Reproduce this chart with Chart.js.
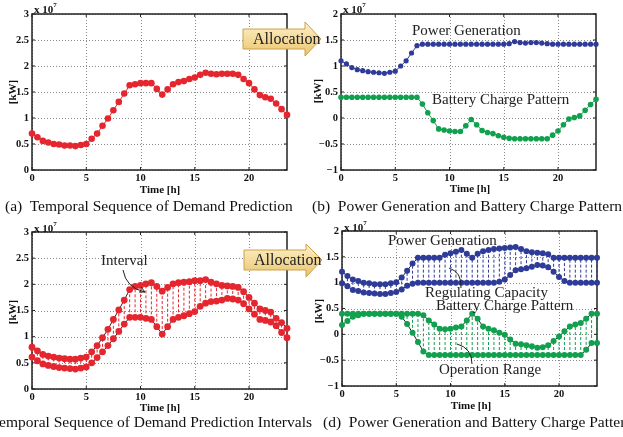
<!DOCTYPE html>
<html>
<head>
<meta charset="utf-8">
<script src="https://cdn.jsdelivr.net/npm/chart.js@4.4.1/dist/chart.umd.min.js"></script>
<style>
  html, body { margin: 0; padding: 0; background: #fff; }
  body { width: 623px; height: 437px; position: relative; overflow: hidden;
         font-family: 'Liberation Serif', 'Times New Roman', serif; color: #111; }
  canvas { position: absolute; }
  .t { position: absolute; white-space: nowrap; line-height: 1; }
  .ann { font-size: 15px; color: #222; }
  .cap { font-size: 15.5px; color: #111; }
  .ax { font-size: 11px; font-weight: bold; transform: translate(-50%, -50%); }
  .kw { font-size: 11px; font-weight: bold; transform: translate(-50%, -50%) rotate(-90deg); }
  .exp { font-size: 11px; font-weight: bold; }
  .exp sup { font-size: 7px; position: relative; top: -1px; }
  svg { position: absolute; left: 0; top: 0; pointer-events: none; }
</style>
</head>
<body>
<canvas id="ca" width="300" height="190" style="left:0;top:0"></canvas>
<canvas id="cb" width="300" height="190" style="left:310px;top:0"></canvas>
<canvas id="cc" width="300" height="190" style="left:0;top:218px"></canvas>
<canvas id="cd" width="300" height="190" style="left:310px;top:217px"></canvas>

<!-- axis labels and exponents -->
<div class="t exp" style="left:34px;top:3px">x 10<sup>7</sup></div>
<div class="t exp" style="left:343px;top:3px">x 10<sup>7</sup></div>
<div class="t exp" style="left:34px;top:222px">x 10<sup>7</sup></div>
<div class="t exp" style="left:344px;top:221px">x 10<sup>7</sup></div>
<div class="t ax" style="left:160px;top:189px">Time [h]</div>
<div class="t ax" style="left:470px;top:188px">Time [h]</div>
<div class="t ax" style="left:160px;top:407px">Time [h]</div>
<div class="t ax" style="left:471px;top:405px">Time [h]</div>
<div class="t kw" style="left:12px;top:92px">[kW]</div>
<div class="t kw" style="left:317px;top:91px">[kW]</div>
<div class="t kw" style="left:12px;top:312px">[kW]</div>
<div class="t kw" style="left:318px;top:311px">[kW]</div>

<!-- captions -->
<div class="t cap" style="left:5px;top:198px">(a)&nbsp; Temporal Sequence of Demand Prediction</div>
<div class="t cap" style="left:312px;top:198px">(b)&nbsp; Power Generation and Battery Charge Pattern</div>
<div class="t cap" style="right:311px;top:414px">(c)&nbsp; Temporal Sequence of Demand Prediction Intervals</div>
<div class="t cap" style="left:323px;top:414px">(d)&nbsp; Power Generation and Battery Charge Pattern</div>

<svg width="623" height="437">
  <defs>
    <linearGradient id="gold" x1="0" y1="0" x2="0" y2="1">
      <stop offset="0" stop-color="#fdf1c8"/>
      <stop offset="1" stop-color="#ebc46e"/>
    </linearGradient>
  </defs>
  <polygon points="243,29 305,29 305,22 321,39 305,56 305,49 243,49" fill="url(#gold)" stroke="#c9a24a" stroke-width="1"/>
  <polygon points="244,250 306,250 306,244 322,260 306,277 306,270 244,270" fill="url(#gold)" stroke="#c9a24a" stroke-width="1"/>
  <path d="M123,270 Q126,288 145,292" fill="none" stroke="#222" stroke-width="1"/>
  <path d="M145,292 L139,292 M145,292 L141,287" fill="none" stroke="#222" stroke-width="1"/>
  <path d="M449,268 Q462,272 461,288" fill="none" stroke="#222" stroke-width="1"/>
  <path d="M457,344 Q472,348 472,364" fill="none" stroke="#222" stroke-width="1"/>
</svg>

<div class="t" style="left:253px;top:31px;font-size:16px;color:#222">Allocation</div>
<div class="t" style="left:254px;top:252px;font-size:16px;color:#222">Allocation</div>

<div class="t ann" style="left:412px;top:23px">Power Generation</div>
<div class="t ann" style="left:432px;top:92px">Battery Charge Pattern</div>
<div class="t ann" style="left:101px;top:253px">Interval</div>
<div class="t ann" style="left:388px;top:233px">Power Generation</div>
<div class="t ann" style="left:425px;top:285px">Regulating Capacity</div>
<div class="t ann" style="left:436px;top:298px">Battery Charge Pattern</div>
<div class="t ann" style="left:439px;top:362px">Operation Range</div>

<script>
// time of day [h], half-hour steps
const hours = [0, 0.5, 1, 1.5, 2, 2.5, 3, 3.5, 4, 4.5, 5, 5.5, 6, 6.5, 7, 7.5, 8, 8.5, 9, 9.5,
  10, 10.5, 11, 11.5, 12, 12.5, 13, 13.5, 14, 14.5, 15, 15.5, 16, 16.5, 17, 17.5, 18, 18.5, 19, 19.5,
  20, 20.5, 21, 21.5, 22, 22.5, 23, 23.5];

// (a) demand prediction [x1e7 kW]
const demand = [0.70, 0.63, 0.56, 0.53, 0.50, 0.49, 0.47, 0.47, 0.46,
  0.48, 0.50, 0.60, 0.70, 0.85, 0.99, 1.15, 1.31, 1.47, 1.63,
  1.65, 1.67, 1.67, 1.67, 1.56, 1.45, 1.55, 1.65, 1.69, 1.71,
  1.75, 1.78, 1.83, 1.87, 1.85, 1.84, 1.85, 1.85, 1.85, 1.83,
  1.75, 1.67, 1.55, 1.44, 1.40, 1.37, 1.28, 1.17, 1.06];

// (b) power generation and battery charge
const powerGen = [1.10, 1.04, 0.97, 0.93, 0.91, 0.89, 0.88, 0.87, 0.86,
  0.88, 0.90, 1.00, 1.10, 1.25, 1.39, 1.42, 1.42, 1.42, 1.42,
  1.42, 1.42, 1.42, 1.42, 1.42, 1.42, 1.42, 1.42, 1.42, 1.42,
  1.42, 1.42, 1.43, 1.47, 1.45, 1.44, 1.45, 1.45, 1.44, 1.43,
  1.42, 1.42, 1.42, 1.42, 1.42, 1.42, 1.42, 1.42, 1.42];
const battery = [0.40, 0.40, 0.40, 0.40, 0.40, 0.40, 0.40, 0.40, 0.40,
  0.40, 0.40, 0.40, 0.40, 0.40, 0.40, 0.27, 0.10, -0.05, -0.21,
  -0.23, -0.25, -0.26, -0.26, -0.15, -0.03, -0.13, -0.24, -0.28, -0.30,
  -0.34, -0.37, -0.39, -0.40, -0.40, -0.40, -0.40, -0.40, -0.40, -0.40,
  -0.33, -0.25, -0.13, -0.02, 0.01, 0.04, 0.15, 0.26, 0.36];

// (c) demand prediction interval
const demandHigh = [0.80, 0.73, 0.66, 0.63, 0.61, 0.59, 0.58, 0.57, 0.57,
  0.59, 0.61, 0.71, 0.83, 0.98, 1.14, 1.33, 1.51, 1.70, 1.90,
  1.96, 1.98, 2.01, 2.03, 1.96, 1.87, 1.94, 2.01, 2.03, 2.04,
  2.05, 2.07, 2.07, 2.09, 2.04, 2.01, 1.98, 1.97, 1.96, 1.94,
  1.86, 1.75, 1.64, 1.53, 1.50, 1.47, 1.35, 1.27, 1.16];
const demandLow = [0.61, 0.54, 0.48, 0.45, 0.43, 0.41, 0.40, 0.39, 0.38,
  0.40, 0.42, 0.50, 0.60, 0.71, 0.83, 0.96, 1.10, 1.24, 1.37,
  1.37, 1.37, 1.35, 1.33, 1.19, 1.05, 1.19, 1.33, 1.37, 1.40,
  1.44, 1.48, 1.58, 1.64, 1.67, 1.68, 1.70, 1.73, 1.72, 1.70,
  1.63, 1.53, 1.43, 1.33, 1.31, 1.28, 1.21, 1.08, 0.98];

// (d) regulating capacity and operation range
const genHigh = [1.21, 1.13, 1.06, 1.03, 1.00, 0.99, 0.97, 0.97, 0.97,
  0.99, 1.01, 1.10, 1.23, 1.37, 1.48, 1.48, 1.48, 1.48, 1.48,
  1.54, 1.57, 1.60, 1.63, 1.56, 1.48, 1.56, 1.61, 1.63, 1.65,
  1.66, 1.67, 1.68, 1.69, 1.65, 1.61, 1.59, 1.58, 1.57, 1.55,
  1.48, 1.48, 1.48, 1.48, 1.48, 1.48, 1.48, 1.48, 1.48];
const genLow = [0.99, 0.93, 0.86, 0.84, 0.81, 0.80, 0.79, 0.78, 0.78,
  0.80, 0.82, 0.87, 0.94, 0.98, 1.00, 1.00, 1.00, 1.00, 1.00,
  1.00, 1.00, 1.00, 1.00, 1.00, 1.00, 1.00, 1.00, 1.00, 1.00,
  1.02, 1.06, 1.15, 1.24, 1.26, 1.28, 1.31, 1.34, 1.33, 1.30,
  1.21, 1.11, 1.03, 1.00, 1.00, 1.00, 1.00, 1.00, 1.00];
const chargeHigh = [0.40, 0.40, 0.40, 0.40, 0.40, 0.40, 0.40, 0.40, 0.40,
  0.40, 0.40, 0.40, 0.40, 0.40, 0.40, 0.37, 0.27, 0.19, 0.11,
  0.10, 0.11, 0.13, 0.15, 0.27, 0.40, 0.30, 0.15, 0.11, 0.08,
  0.03, -0.01, -0.10, -0.18, -0.19, -0.21, -0.23, -0.26, -0.25, -0.21,
  -0.13, -0.04, 0.06, 0.15, 0.19, 0.22, 0.30, 0.40, 0.40];
const chargeLow = [0.18, 0.26, 0.34, 0.37, 0.40, 0.40, 0.40, 0.40, 0.40,
  0.40, 0.40, 0.34, 0.20, 0.03, -0.15, -0.33, -0.40, -0.40, -0.40,
  -0.40, -0.40, -0.40, -0.40, -0.40, -0.40, -0.40, -0.40, -0.40, -0.40,
  -0.40, -0.40, -0.40, -0.40, -0.40, -0.40, -0.40, -0.40, -0.40, -0.40,
  -0.40, -0.40, -0.40, -0.40, -0.40, -0.40, -0.30, -0.17, -0.17];

const RED = '#e5262e', BLUE = '#2e3b98', GREEN = '#10a04e';
const tickFont = { family: "'Liberation Serif', serif", size: 10.5, weight: 'bold' };

const pts = (ys) => hours.map((h, i) => ({ x: h, y: ys[i] }));
const spanPts = (lo, hi) => hours.flatMap((h, i) => [{ x: h, y: lo[i] }, { x: h, y: hi[i] }, { x: h, y: null }]);

const curve = (ys, line, dot, r) => ({
  data: pts(ys), borderColor: line, borderWidth: 1, tension: 0,
  pointRadius: r, pointBackgroundColor: dot, pointBorderColor: dot, pointBorderWidth: 0,
  clip: false, order: 1
});
const spans = (lo, hi, color) => ({
  data: spanPts(lo, hi), borderColor: color, borderWidth: 1, borderDash: [3, 2],
  pointRadius: 0, spanGaps: false, clip: false, order: 2
});

// dotted grid, box frame and small inward ticks, matlab style
const framePlugin = {
  id: 'frame',
  beforeDatasetsDraw(chart) {
    const a = chart.chartArea, ctx = chart.ctx;
    const xs = chart.scales.x, ys = chart.scales.y;
    ctx.save();
    ctx.strokeStyle = '#8a8a8a';
    ctx.lineWidth = 1;
    ctx.setLineDash([1, 2]);
    ctx.beginPath();
    xs.ticks.forEach(t => {
      const px = Math.round(xs.getPixelForValue(t.value)) + 0.5;
      ctx.moveTo(px, a.top); ctx.lineTo(px, a.bottom);
    });
    ys.ticks.forEach(t => {
      const py = Math.round(ys.getPixelForValue(t.value)) + 0.5;
      ctx.moveTo(a.left, py); ctx.lineTo(a.right, py);
    });
    ctx.stroke();
    ctx.setLineDash([]);
    ctx.strokeStyle = '#222';
    ctx.beginPath();
    xs.ticks.forEach(t => {
      const px = xs.getPixelForValue(t.value);
      ctx.moveTo(px, a.bottom); ctx.lineTo(px, a.bottom - 3);
      ctx.moveTo(px, a.top); ctx.lineTo(px, a.top + 3);
    });
    ys.ticks.forEach(t => {
      const py = ys.getPixelForValue(t.value);
      ctx.moveTo(a.left, py); ctx.lineTo(a.left + 3, py);
      ctx.moveTo(a.right, py); ctx.lineTo(a.right - 3, py);
    });
    ctx.stroke();
    ctx.lineWidth = 1.5;
    ctx.strokeRect(a.left, a.top, a.right - a.left, a.bottom - a.top);
    ctx.restore();
  }
};

function panel(id, datasets, yMin, yMax, yWidth, padTop, padRight, xHeight) {
  return new Chart(document.getElementById(id), {
    type: 'line',
    data: { datasets },
    options: {
      responsive: false,
      animation: false,
      events: [],
      layout: { padding: { top: padTop, right: padRight, left: 0, bottom: 0 } },
      plugins: { legend: { display: false }, tooltip: { enabled: false } },
      scales: {
        x: {
          type: 'linear', min: 0, max: 23.5,
          afterFit: s => { s.height = xHeight; },
          ticks: { stepSize: 5, includeBounds: false, font: tickFont, color: '#111', padding: 2, maxRotation: 0 },
          grid: { display: false, drawTicks: false },
          border: { display: false }
        },
        y: {
          min: yMin, max: yMax,
          afterFit: s => { s.width = yWidth; },
          ticks: { stepSize: 0.5, font: tickFont, color: '#111', padding: 3,
                   callback: v => String(v).replace('-', '\u2212') },
          grid: { display: false, drawTicks: false },
          border: { display: false }
        }
      }
    },
    plugins: [framePlugin]
  });
}

panel('ca', [curve(demand, RED, RED, 3.3)], 0, 3, 32, 14, 13, 20);

panel('cb', [
  curve(powerGen, BLUE, BLUE, 2.6),
  curve(battery, GREEN, GREEN, 2.8)
], -1, 2, 31, 14, 14, 20);

panel('cc', [
  curve(demandHigh, '#222', RED, 3.4),
  curve(demandLow, '#222', RED, 3.4),
  spans(demandLow, demandHigh, RED)
], 0, 3, 32, 14, 13, 19);

panel('cd', [
  curve(genHigh, '#222', BLUE, 3),
  curve(genLow, '#222', BLUE, 3),
  curve(chargeHigh, '#222', GREEN, 3),
  curve(chargeLow, '#222', GREEN, 3),
  spans(genLow, genHigh, BLUE),
  spans(chargeLow, chargeHigh, GREEN)
], -1, 2, 32, 14, 13, 21);
</script>
</body>
</html>
